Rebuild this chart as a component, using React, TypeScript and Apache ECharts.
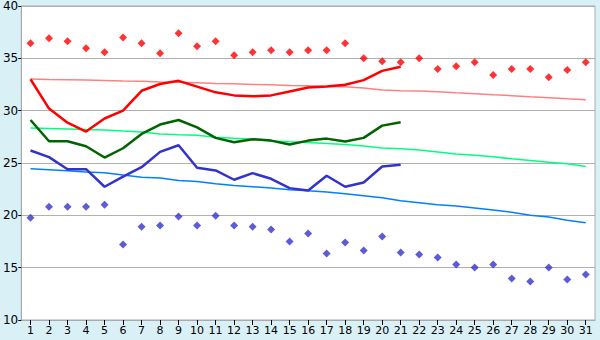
import React, { useEffect, useRef } from "react";
import * as echarts from "echarts";

const days = Array.from({ length: 31 }, (_, i) => String(i + 1));

const recordMax = [36.45, 36.92, 36.63, 35.97, 35.59, 37.0, 36.45, 35.49, 37.4, 36.16, 36.63, 35.3, 35.59, 35.78, 35.59, 35.78, 35.78, 36.45, 35.0, 34.73, 34.63, 35.0, 33.97, 34.25, 34.63, 33.4, 33.97, 33.97, 33.2, 33.88, 34.63];
const recordMin = [19.78, 20.83, 20.83, 20.83, 21.02, 17.21, 18.92, 19.02, 19.88, 19.02, 19.97, 19.02, 18.92, 18.64, 17.5, 18.26, 16.35, 17.4, 16.64, 17.97, 16.45, 16.26, 15.97, 15.3, 15.02, 15.3, 13.97, 13.69, 15.02, 13.88, 14.35];

const avgMax = [33.0, 30.2, 28.85, 28.0, 29.25, 30.0, 31.9, 32.55, 32.85, 32.3, 31.75, 31.46, 31.37, 31.46, 31.84, 32.22, 32.32, 32.48, 32.92, 33.8, 34.19];
const avgMean = [29.11, 27.08, 27.08, 26.6, 25.52, 26.41, 27.78, 28.67, 29.11, 28.4, 27.4, 26.98, 27.27, 27.14, 26.76, 27.14, 27.33, 27.05, 27.4, 28.57, 28.9];
const avgMin = [26.19, 25.56, 24.41, 24.41, 22.73, 23.7, 24.6, 26.06, 26.7, 24.54, 24.29, 23.4, 24.03, 23.49, 22.6, 22.38, 23.78, 22.73, 23.14, 24.67, 24.83];

const normalMax = [33.02, 32.98, 32.95, 32.92, 32.88, 32.83, 32.8, 32.75, 32.72, 32.67, 32.6, 32.57, 32.5, 32.48, 32.4, 32.38, 32.32, 32.29, 32.16, 31.97, 31.9, 31.88, 31.81, 31.71, 31.62, 31.52, 31.43, 31.33, 31.24, 31.14, 31.05];
const normalMean = [28.35, 28.3, 28.25, 28.2, 28.16, 28.05, 27.97, 27.78, 27.7, 27.65, 27.46, 27.36, 27.27, 27.1, 27.02, 26.95, 26.86, 26.76, 26.63, 26.44, 26.35, 26.25, 26.06, 25.87, 25.75, 25.59, 25.4, 25.24, 25.08, 24.92, 24.67];
const normalMin = [24.44, 24.35, 24.25, 24.15, 24.06, 23.85, 23.65, 23.56, 23.33, 23.24, 23.02, 22.86, 22.73, 22.6, 22.44, 22.35, 22.22, 22.06, 21.87, 21.68, 21.4, 21.21, 21.02, 20.89, 20.7, 20.51, 20.29, 20.0, 19.84, 19.52, 19.3];

const yTicks = { min: 10, max: 40, interval: 5 };

export default function App() {
  const ref = useRef<HTMLDivElement>(null);
  useEffect(() => {
    document.body.style.margin = "0";
    const chart = echarts.init(ref.current!, undefined, { renderer: "svg" });
    const font = "DejaVu Sans";
    const line = (name: string, data: number[], color: string, width: number, z: number) => ({
      name,
      type: "line",
      data,
      symbol: "none",
      smooth: false,
      lineStyle: { color, width },
      z,
    });
    const scatter = (name: string, data: number[], color: string) => ({
      name,
      type: "scatter",
      data,
      symbol: "diamond",
      symbolSize: 8,
      itemStyle: { color },
      z: 5,
    });
    chart.setOption({
      animation: false,
      backgroundColor: "#daf0f7",
      grid: {
        left: 20,
        right: 5,
        top: 5,
        bottom: 20,
        show: true,
        backgroundColor: "#ffffff",
        borderColor: "#aaaaaa",
        borderWidth: 1,
        containLabel: false,
      },
      xAxis: {
        type: "category",
        data: days,
        boundaryGap: true,
        axisLine: { show: true, lineStyle: { color: "#aaaaaa", width: 1 } },
        axisTick: { show: true, alignWithLabel: true, length: 5, lineStyle: { color: "#000000" } },
        axisLabel: { color: "#000000", fontFamily: font, fontSize: 11, margin: 5, interval: 0 },
        splitLine: { show: false },
      },
      yAxis: {
        type: "value",
        min: yTicks.min,
        max: yTicks.max,
        interval: yTicks.interval,
        axisLine: { show: true, lineStyle: { color: "#aaaaaa", width: 1 } },
        axisTick: { show: true, length: 3, lineStyle: { color: "#000000" } },
        axisLabel: { color: "#000000", fontFamily: font, fontSize: 12, margin: 3 },
        splitLine: { show: true, lineStyle: { color: "#b0b0b0", width: 1 } },
      },
      series: [
        line("normalMax", normalMax, "#ff8080", 1.5, 2),
        line("normalMean", normalMean, "#00ff80", 1.5, 2),
        line("normalMin", normalMin, "#0080ff", 1.5, 2),
        line("avgMax", avgMax, "#ff0000", 2.5, 3),
        line("avgMean", avgMean, "#006400", 2.5, 3),
        line("avgMin", avgMin, "#3333cc", 2.5, 3),
        scatter("recordMax", recordMax, "#ff0000"),
        scatter("recordMin", recordMin, "#3333cc"),
      ],
    });
    return () => chart.dispose();
  }, []);
  return <div ref={ref} style={{ width: 600, height: 340 }} />;
}
